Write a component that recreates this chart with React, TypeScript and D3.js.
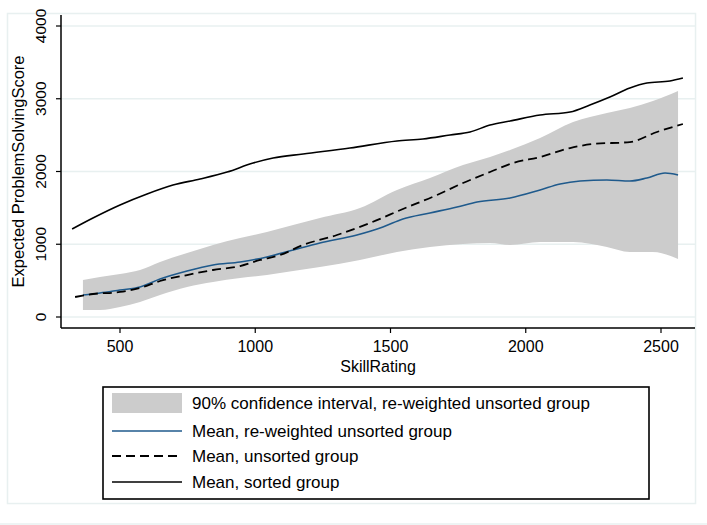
import React from "react";
import * as d3 from "d3";

// ---- Data ----
const sortedX = [323, 400, 500, 600, 696, 796, 896, 992, 1066, 1177, 1350, 1524, 1620, 1720, 1794, 1868, 1942, 2053, 2164, 2237, 2311, 2385, 2448, 2533, 2581];
const sortedY = [1210, 1361, 1540, 1691, 1814, 1897, 1993, 2117, 2186, 2241, 2323, 2419, 2447, 2502, 2543, 2639, 2694, 2777, 2818, 2914, 3024, 3148, 3216, 3244, 3285];

const unsortedX = [334, 400, 500, 585, 648, 748, 844, 944, 1018, 1092, 1177, 1302, 1424, 1546, 1672, 1768, 1868, 1953, 2053, 2164, 2249, 2385, 2485, 2581];
const unsortedY = [275, 316, 344, 412, 495, 577, 646, 701, 784, 852, 990, 1127, 1292, 1485, 1677, 1842, 1993, 2117, 2199, 2323, 2378, 2405, 2543, 2653];

const reweightX = [363, 426, 500, 574, 648, 748, 844, 944, 1043, 1140, 1239, 1376, 1472, 1546, 1646, 1746, 1820, 1942, 2053, 2127, 2201, 2300, 2385, 2448, 2515, 2563];
const reweightY = [302, 330, 371, 412, 522, 632, 715, 756, 825, 921, 1017, 1127, 1237, 1347, 1430, 1512, 1581, 1636, 1746, 1828, 1869, 1883, 1869, 1911, 1979, 1952];

const bandX = [363, 426, 500, 574, 648, 748, 844, 944, 1043, 1140, 1239, 1387, 1524, 1646, 1768, 1868, 1942, 2053, 2175, 2300, 2385, 2470, 2563];
const bandUpper = [509, 550, 591, 646, 756, 880, 990, 1086, 1168, 1265, 1361, 1498, 1746, 1911, 2089, 2199, 2296, 2460, 2680, 2804, 2873, 2969, 3107];
const bandLower = [96, 96, 137, 206, 302, 412, 481, 536, 577, 632, 687, 784, 893, 962, 1003, 1017, 990, 1031, 1031, 962, 893, 893, 797];

const xTicks = [500, 1000, 1500, 2000, 2500];
const yTicks = [0, 1000, 2000, 3000, 4000];

const legendLabels = [
  "90% confidence interval, re-weighted unsorted group",
  "Mean, re-weighted unsorted group",
  "Mean, unsorted group",
  "Mean, sorted group",
];

const xTitle = "SkillRating";
const yTitle = "Expected ProblemSolvingScore";

export default function App() {
  const W = 707;
  const H = 525;
  const font = "'Liberation Sans', Arial, Helvetica, sans-serif";
  const grid = "#e8f0f0";
  const blue = "#1f5a8c";
  const bandFill = "#cccccc";

  const plotLeft = 61;
  const plotRight = 695;
  const plotTop = 15;
  const plotBottom = 328;

  const x = d3.scaleLinear().domain([500, 2500]).range([120, 661]);
  const y = d3.scaleLinear().domain([0, 4000]).range([317, 26]);

  const line = d3
    .line<[number, number]>()
    .x((d) => x(d[0]))
    .y((d) => y(d[1]))
    .curve(d3.curveMonotoneX);

  const area = d3
    .area<[number, number, number]>()
    .x((d) => x(d[0]))
    .y0((d) => y(d[2]))
    .y1((d) => y(d[1]))
    .curve(d3.curveMonotoneX);

  const sortedPts = sortedX.map((v, i) => [v, sortedY[i]] as [number, number]);
  const unsortedPts = unsortedX.map((v, i) => [v, unsortedY[i]] as [number, number]);
  const reweightPts = reweightX.map((v, i) => [v, reweightY[i]] as [number, number]);
  const bandPts = bandX.map((v, i) => [v, bandUpper[i], bandLower[i]] as [number, number, number]);

  // legend geometry
  const lgX = 103;
  const lgY = 387;
  const lgW = 546;
  const lgH = 112;
  const rowY = [403, 431, 456, 482];
  const swX0 = 112;
  const swX1 = 182;
  const textX = 192;

  return (
    <svg
      width={W}
      height={H}
      style={{ position: "absolute", left: 0, top: 0, background: "#ffffff" }}
      fontFamily={font}
    >
      <rect x={0} y={0} width={W} height={H} fill="#ffffff" />
      {/* outer light frame */}
      <rect x={7.5} y={13.5} width={688} height={490} fill="none" stroke={grid} strokeWidth={1.5} />
      <line x1={0} x2={W} y1={524} y2={524} stroke={grid} strokeWidth={1.5} />

      {/* gridlines */}
      {yTicks.map((t) => (
        <line key={"g" + t} x1={plotLeft} x2={plotRight} y1={y(t)} y2={y(t)} stroke={grid} strokeWidth={1.5} />
      ))}

      {/* band */}
      <path d={area(bandPts) || ""} fill={bandFill} stroke="none" />

      {/* lines */}
      <path d={line(reweightPts) || ""} fill="none" stroke={blue} strokeWidth={1.6} />
      <path d={line(unsortedPts) || ""} fill="none" stroke="#000" strokeWidth={1.8} strokeDasharray="9,5" />
      <path d={line(sortedPts) || ""} fill="none" stroke="#000" strokeWidth={1.6} />

      {/* axes */}
      <line x1={plotLeft} x2={plotLeft} y1={plotTop} y2={plotBottom} stroke="#000" strokeWidth={1.5} />
      <line x1={plotLeft} x2={plotRight} y1={plotBottom} y2={plotBottom} stroke="#000" strokeWidth={1.5} />

      {yTicks.map((t) => (
        <g key={"yt" + t}>
          <line x1={plotLeft - 5} x2={plotLeft} y1={y(t)} y2={y(t)} stroke="#000" strokeWidth={1.2} />
          <text
            transform={`translate(46,${y(t)}) rotate(-90)`}
            textAnchor="middle"
            fontSize={15.5}
            fill="#000"
          >
            {t}
          </text>
        </g>
      ))}
      {xTicks.map((t) => (
        <g key={"xt" + t}>
          <line x1={x(t)} x2={x(t)} y1={plotBottom} y2={plotBottom + 5} stroke="#000" strokeWidth={1.2} />
          <text x={x(t)} y={352} textAnchor="middle" fontSize={16} fill="#000">
            {t}
          </text>
        </g>
      ))}

      <text x={(plotLeft + plotRight) / 2} y={372} textAnchor="middle" fontSize={16} fill="#000">
        {xTitle}
      </text>
      <text
        transform={`translate(24,${(plotTop + plotBottom) / 2}) rotate(-90)`}
        textAnchor="middle"
        fontSize={16.5}
        fill="#000"
      >
        {yTitle}
      </text>

      {/* legend */}
      <rect x={lgX} y={lgY} width={lgW} height={lgH} fill="#fff" stroke="#000" strokeWidth={1.6} />
      <rect x={swX0} y={rowY[0] - 10} width={swX1 - swX0} height={20} fill={bandFill} />
      <line x1={swX0} x2={swX1} y1={rowY[1]} y2={rowY[1]} stroke={blue} strokeWidth={1.6} />
      <line x1={swX0} x2={swX1} y1={rowY[2]} y2={rowY[2]} stroke="#000" strokeWidth={1.8} strokeDasharray="9,5" />
      <line x1={swX0} x2={swX1} y1={rowY[3]} y2={rowY[3]} stroke="#000" strokeWidth={1.6} />
      {legendLabels.map((l, i) => (
        <text key={l} x={textX} y={rowY[i] + 6} fontSize={17} fill="#000">
          {l}
        </text>
      ))}
    </svg>
  );
}
